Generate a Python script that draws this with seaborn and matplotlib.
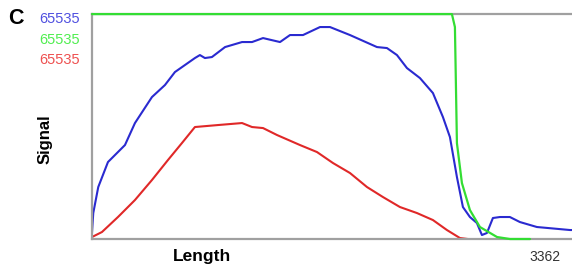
import matplotlib
matplotlib.use("Agg")
import matplotlib.pyplot as plt
import seaborn as sns

# Signal traces, x = position along length, y = signal
blue_x = [0, 9, 44, 112, 231, 301, 420, 511, 581, 721, 756, 791, 840, 932, 1051, 1121,
          1198, 1317, 1387, 1478, 1597, 1667, 1807, 1996, 2066, 2136, 2206, 2297, 2388,
          2458, 2507, 2556, 2598, 2647, 2696, 2731, 2766, 2808, 2857, 2927, 2997, 3116,
          3348, 3362]
blue_y = [1750, 7570, 15150, 22430, 27380, 33790, 41360, 44860, 48650, 52730, 53600, 52730,
          53020, 55930, 57390, 57390, 58550, 57390, 59430, 59430, 61760, 61760, 59430,
          55930, 55640, 53600, 49810, 46900, 42530, 35540, 29710, 18060, 9320, 6410, 4660,
          1165, 1750, 6120, 6410, 6410, 4950, 3500, 2620, 2620]

green_x = [0, 2521, 2542, 2556, 2591, 2647, 2717, 2837, 2928, 3068]
green_y = [65535, 65535, 61760, 27960, 16310, 8450, 3500, 580, 0, 0]

red_x = [0, 70, 182, 301, 420, 532, 630, 721, 883, 1051, 1121, 1198, 1296, 1457, 1576,
         1688, 1807, 1926, 2038, 2157, 2276, 2388, 2486, 2577, 2633]
red_y = [580, 2040, 6410, 11360, 17190, 23010, 27960, 32630, 33210, 33790, 32630, 32330,
         30300, 27380, 25340, 22140, 19230, 15150, 12230, 9320, 7570, 5530, 2620, 290, 0]

x_max = 3362
y_max = 65535

sns.set_style("white")
plt.rcParams["font.family"] = ["Liberation Sans", "DejaVu Sans"]

fig = plt.figure(figsize=(5.72, 2.71), dpi=100)
ax = fig.add_axes([0.1608, 0.118, 0.8392, 0.83])

sns.lineplot(x=green_x, y=green_y, ax=ax, color="#33dd33", linewidth=1.6, estimator=None, sort=False)
sns.lineplot(x=blue_x, y=blue_y, ax=ax, color="#2a2ad0", linewidth=1.5, estimator=None, sort=False)
sns.lineplot(x=red_x, y=red_y, ax=ax, color="#e02828", linewidth=1.5, estimator=None, sort=False)
# green saturates at the top, drawn over the frame
ax.lines[0].set_clip_on(False)
ax.lines[0].set_zorder(3)

ax.set_xlim(0, x_max)
ax.set_ylim(0, y_max)
ax.set_xticks([])
ax.set_yticks([])
for side in ["left", "top", "bottom"]:
    ax.spines[side].set_color("#a0a0a0")
    ax.spines[side].set_linewidth(1.6)
ax.spines["right"].set_visible(False)

# scale labels
fig.text(0.014, 0.93, "C", fontsize=15.5, fontweight="bold", color="black", va="center", ha="left")
fig.text(0.14, 0.93, str(y_max), fontsize=10.5, color="#5050e0", va="center", ha="right")
fig.text(0.14, 0.852, str(y_max), fontsize=10.5, color="#50ee50", va="center", ha="right")
fig.text(0.14, 0.778, str(y_max), fontsize=10.5, color="#ee5050", va="center", ha="right")

fig.text(0.079, 0.487, "Signal", fontsize=12, fontweight="bold", color="black",
         rotation=90, va="center", ha="center")
fig.text(0.354, 0.052, "Length", fontsize=12.5, fontweight="bold", color="black",
         va="center", ha="center")
fig.text(0.953, 0.052, str(x_max), fontsize=10, color="#333333", va="center", ha="center")

plt.savefig("out.png", dpi=100)
plt.close()
